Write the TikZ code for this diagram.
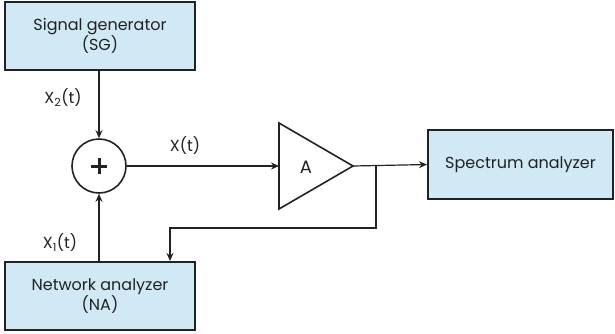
\documentclass[tikz,border=0pt]{standalone}
\usepackage{fontspec}
\setmainfont{Poppins}
\usetikzlibrary{arrows.meta,calc}
\definecolor{boxblue}{HTML}{D0E9F4}
\definecolor{ink}{HTML}{222222}
\begin{document}
\begin{tikzpicture}[x=1pt,y=-1pt,
  box/.style={draw=ink,line width=2pt,fill=boxblue,inner sep=0pt,align=center,font=\fontsize{16}{19}\selectfont,text=ink},
  conn/.style={draw=ink,line width=1.2pt},
  arr/.style={conn,-{Stealth[length=8pt,width=7pt]}},
  lbl/.style={font=\fontsize{16}{19}\selectfont,text=ink,inner sep=0pt}]
\useasboundingbox (0,0) rectangle (615,333);
\node[box,minimum width=190pt,minimum height=68pt] (sg) at (100,36) {Signal generator\\(SG)};
\node[box,minimum width=190pt,minimum height=68pt] (na) at (100,296) {Network analyzer\\(NA)};
\node[box,minimum width=185pt,minimum height=69pt] (sa) at (520.5,164.5) {Spectrum analyzer};
\node[draw=ink,line width=1.6pt,circle,minimum size=54pt,inner sep=0pt] (sum) at (99,166) {};
\draw[ink,line width=3pt] ($(sum)+(-8,0)$) -- ($(sum)+(8,0)$) ($(sum)+(0,-8)$) -- ($(sum)+(0,8)$);
\coordinate (tl) at (279,123);
\coordinate (tb) at (279,209);
\coordinate (amp) at (353,166);
\draw[ink,line width=1.6pt,line join=miter] (tl) -- (amp) -- (tb) -- cycle;
\node[lbl,font=\fontsize{18}{20}\selectfont] (alab) at (306,167) {A};
\coordinate (ain) at (279,166);
\coordinate (tap) at (376,166);
\coordinate (fb1) at (376,228);
\coordinate (fb2) at (170,228);
\draw[arr] (sg.south -| sum) -- (sum.north);
\draw[arr] (na.north -| sum) -- (sum.south);
\draw[arr] (sum.east) -- (ain);
\draw[arr] (amp) -- (sa.west);
\draw[arr] (tap) -- (fb1) -- (fb2) -- (fb2 |- na.north);
\node[lbl] (x2) at (63,98) {X\textsubscript{2}(t)};
\node[lbl] (x1) at (60,243) {X\textsubscript{1}(t)};
\node[lbl] (x) at (185,146) {X(t)};
\end{tikzpicture}
\end{document}
